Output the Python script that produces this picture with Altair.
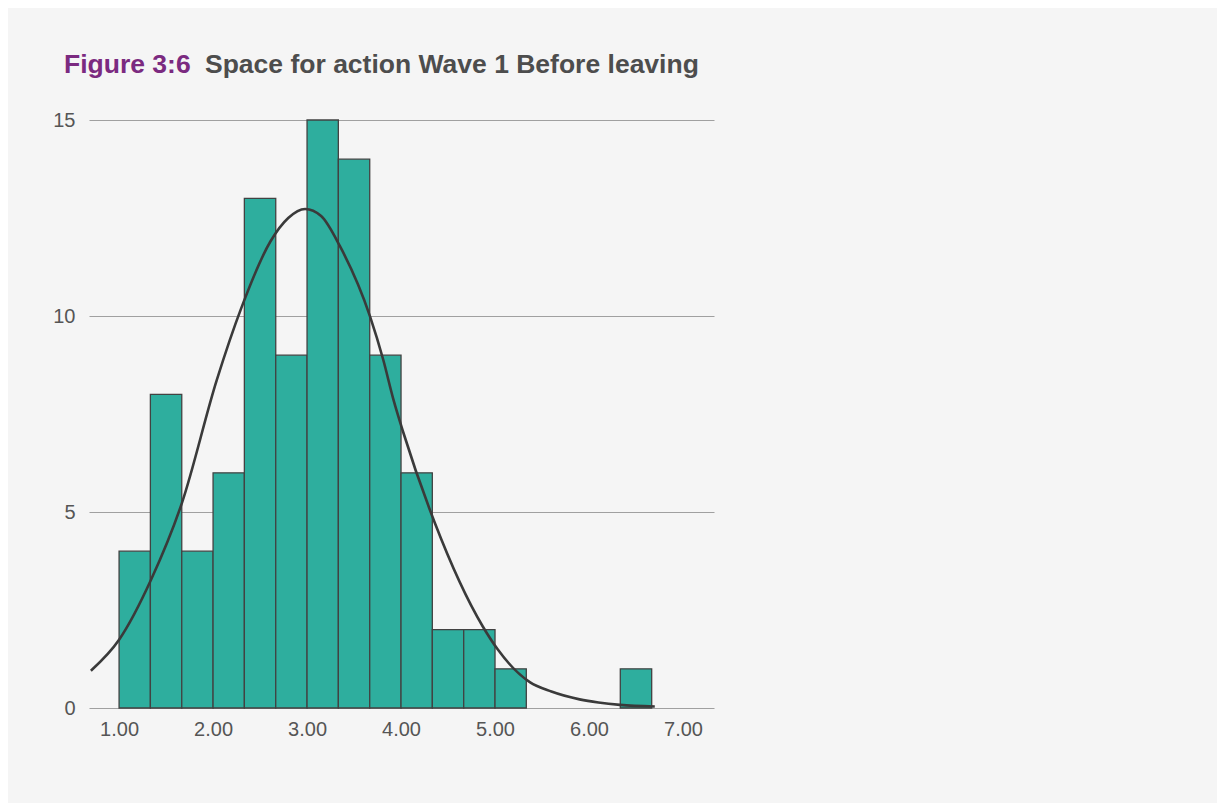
import altair as alt
import pandas as pd

# Histogram bins (lower / upper edge) and counts
bin_lo = [1.000, 1.333, 1.667, 2.000, 2.333, 2.667, 3.000, 3.333, 3.667, 4.000, 4.333, 4.667, 5.000, 6.333]
bin_hi = [1.333, 1.667, 2.000, 2.333, 2.667, 3.000, 3.333, 3.667, 4.000, 4.333, 4.667, 5.000, 5.333, 6.667]
counts = [4, 8, 4, 6, 13, 9, 15, 14, 9, 6, 2, 2, 1, 1]
base = [0] * len(counts)

# Fitted normal curve
curve_x = [0.70, 1.00, 1.34, 1.67, 2.04, 2.30, 2.61, 2.80, 2.98, 3.15, 3.35, 3.67, 3.81,
           3.92, 4.02, 4.36, 4.87, 5.03, 5.37, 5.60, 5.90, 6.10, 6.33, 6.70]
curve_y = [0.95, 1.74, 3.27, 5.24, 8.37, 10.2, 11.9, 12.5, 12.73, 12.55, 11.78, 9.99, 8.89,
           7.86, 7.06, 4.72, 2.08, 1.49, 0.66, 0.42, 0.22, 0.14, 0.08, 0.04]

x_ticks = [1, 2, 3, 4, 5, 6, 7]
y_ticks = [0, 5, 10, 15]

title_fig = "Figure 3:6"
title_main = "Space for action Wave 1 Before leaving"

FONT = "Liberation Sans"

bars_df = pd.DataFrame({"lo": bin_lo, "hi": bin_hi, "n": counts, "b": base})
curve_df = pd.DataFrame({"x": curve_x, "y": curve_y})

xscale = alt.Scale(domain=[0.68, 7.33], nice=False, zero=False, padding=0)
yscale = alt.Scale(domain=[0, 15], nice=False, padding=0)

bars = alt.Chart(bars_df).mark_bar(
    color="#2eae9e", stroke="#424242", strokeWidth=1.3, orient="vertical"
).encode(
    x=alt.X("lo:Q", scale=xscale,
            axis=alt.Axis(values=x_ticks, format=".2f", title=None, grid=False,
                          domain=False, ticks=False, labelPadding=11,
                          labelFontSize=20, labelColor="#555555", labelFont=FONT)),
    x2="hi:Q",
    y=alt.Y("n:Q", scale=yscale,
            axis=alt.Axis(values=y_ticks, title=None, grid=True, gridColor="#a0a0a0",
                          gridWidth=1.2, domain=False, ticks=False, labelPadding=14,
                          labelFontSize=20, labelColor="#555555", labelFont=FONT)),
    y2="b:Q",
)

curve = alt.Chart(curve_df).mark_line(
    color="#3a3a3a", strokeWidth=2.6, interpolate="monotone"
).encode(
    x=alt.X("x:Q", scale=xscale),
    y=alt.Y("y:Q", scale=yscale),
)

t1 = alt.Chart(pd.DataFrame({"t": [title_fig]})).mark_text(
    align="left", baseline="alphabetic", font=FONT, fontSize=26.5, fontWeight="bold",
    color="#7b2a80"
).encode(text="t:N", x=alt.value(-25), y=alt.value(-47))

t2 = alt.Chart(pd.DataFrame({"t": [title_main]})).mark_text(
    align="left", baseline="alphabetic", font=FONT, fontSize=26.5, fontWeight="bold",
    color="#4d4d4d"
).encode(text="t:N", x=alt.value(116), y=alt.value(-47))

chart = alt.layer(bars, curve, t1, t2).properties(
    width=625, height=588,
    background="#f5f5f5",
    padding={"left": 81, "top": 112, "right": 503, "bottom": 95},
    autosize=alt.AutoSizeParams(type="none"),
).configure_view(stroke=None)

chart.save("out.html", embed_options={"renderer": "svg", "actions": False})
